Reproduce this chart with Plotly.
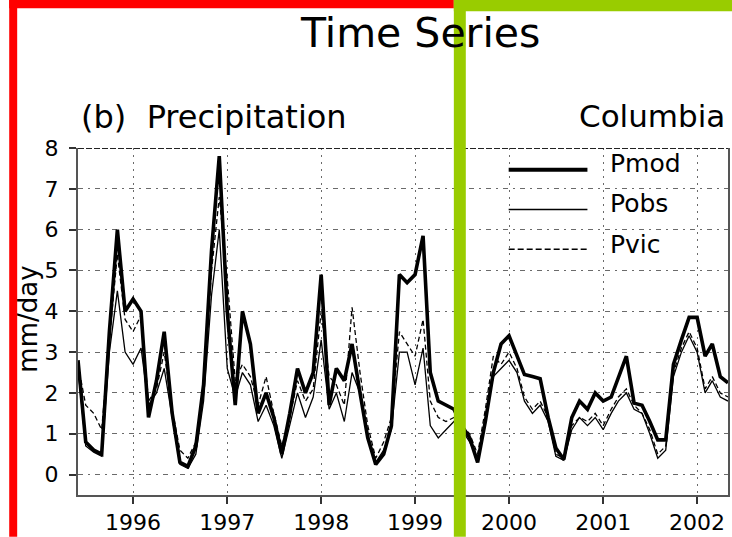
import pandas as pd
import plotly.graph_objects as go

# ---------------- data (monthly, Jun 1995 .. Apr 2002) ----------------
start_month = "1995-06-01"
n_months = 84
pmod = [2.8, 0.8, 0.6, 0.5, 3.5, 6.0, 4.0, 4.3, 4.0, 1.4, 2.3, 3.5,
        1.5, 0.3, 0.2, 0.7, 2.2, 5.5, 7.8, 4.0, 1.7, 4.0, 3.2, 1.5,
        2.0, 1.4, 0.5, 1.5, 2.6, 2.0, 2.5, 4.9, 1.7, 2.6, 2.3, 3.2,
        2.0, 0.9, 0.25, 0.5, 1.2, 4.9, 4.7, 4.9, 5.85, 2.5, 1.8, 1.7,
        1.6, 1.2, 0.9, 0.3, 1.3, 2.5, 3.2, 3.4, 2.9, 2.45, 2.4, 2.35,
        1.4, 0.65, 0.37, 1.4, 1.8, 1.6, 2.0, 1.8, 1.9, 2.4, 2.9, 1.75,
        1.7, 1.3, 0.85, 0.85, 2.7, 3.3, 3.85, 3.85, 2.9, 3.2, 2.4, 2.25]
pobs = [2.6, 0.7, 0.55, 0.45, 3.0, 4.5, 3.0, 2.7, 3.1, 1.7, 2.0, 2.6,
        1.4, 0.25, 0.15, 0.5, 1.8, 4.4, 6.0, 2.6, 1.9, 2.5, 2.2, 1.3,
        1.7, 1.2, 0.4, 1.2, 2.0, 1.4, 1.9, 3.3, 1.6, 2.0, 1.3, 2.5,
        2.0, 1.0, 0.3, 0.6, 1.1, 3.0, 3.0, 2.2, 3.1, 1.2, 0.9, 1.1,
        1.3, 1.1, 0.8, 0.4, 1.4, 2.4, 2.6, 2.8, 2.5, 1.8, 1.5, 1.7,
        1.3, 0.45, 0.35, 1.1, 1.4, 1.2, 1.4, 1.1, 1.5, 1.8, 2.0, 1.6,
        1.5, 1.0, 0.4, 0.6, 2.4, 3.0, 3.4, 3.0, 2.0, 2.3, 1.9, 1.8]
pvic = [2.7, 1.7, 1.5, 1.1, 3.3, 5.4, 3.8, 3.5, 3.9, 1.8, 2.1, 3.0,
        1.6, 0.6, 0.4, 0.8, 2.0, 5.0, 6.8, 4.8, 2.3, 2.7, 2.4, 1.7,
        2.4, 1.5, 0.7, 1.4, 2.3, 1.8, 2.1, 4.0, 2.4, 2.2, 1.7, 4.1,
        2.5, 1.2, 0.4, 0.8, 1.4, 3.5, 3.2, 2.9, 3.8, 1.8, 1.4, 1.3,
        1.4, 1.2, 1.0, 0.5, 1.6, 2.9, 2.7, 3.0, 2.6, 1.9, 1.6, 1.8,
        1.4, 0.5, 0.4, 1.2, 1.4, 1.3, 1.5, 1.2, 1.6, 1.9, 2.1, 1.7,
        1.5, 1.1, 0.5, 0.7, 2.5, 3.1, 3.5, 3.1, 2.1, 2.4, 2.0, 1.9]
series_names = ["Pmod", "Pobs", "Pvic"]
year_ticks = ["1996", "1997", "1998", "1999", "2000", "2001", "2002"]
y_ticks = [0, 1, 2, 3, 4, 5, 6, 7, 8]

dates = pd.date_range(start_month, periods=n_months, freq="MS")

# ---------------- layout geometry (pixels) ----------------
W_PX, H_PX = 732, 537
L, R, T, B = 78, 730, 148, 498


def px(x):
    return (x - L) / (R - L)


def py(y):
    return (B - y) / (B - T)


FONT = "DejaVu Sans"
fig = go.Figure()

styles = [dict(width=3.6, color="black"),
          dict(width=1.3, color="black"),
          dict(width=1.3, color="black", dash="5px,3px")]

for name, vals, st in zip(series_names, [pmod, pobs, pvic], styles):
    fig.add_trace(go.Scatter(x=dates, y=vals, mode="lines", name=name,
                             line=st, showlegend=False))

grid_col = "#6a6a6a"
fig.update_xaxes(
    range=["1995-06-01", "2002-05-01"],
    tickvals=[pd.Timestamp(f"{y}-01-01") for y in year_ticks],
    ticktext=year_ticks,
    ticks="outside", ticklen=7, tickwidth=1.5, tickcolor="#333",
    showline=True, linecolor="#555", linewidth=2,
    showgrid=True, gridcolor=grid_col, gridwidth=1, griddash="2px,5px",
    tickfont=dict(family=FONT, size=22, color="black"),
    zeroline=False,
)
fig.update_yaxes(
    range=[-0.5, 8],
    tickvals=y_ticks,
    ticks="outside", ticklen=7, tickwidth=1.5, tickcolor="#333",
    showline=True, linecolor="#555", linewidth=2, mirror=True,
    showgrid=True, gridcolor=grid_col, gridwidth=1, griddash="5px,5px,2px,5px",
    tickfont=dict(family=FONT, size=22, color="black"),
    ticklabelstandoff=6,
    zeroline=False,
)

shapes = []
# dashed top frame
shapes.append(dict(type="line", xref="paper", yref="y", x0=0, x1=1, y0=8, y1=8,
                   line=dict(color="#222", width=2, dash="6px,2px"), layer="above"))
# legend lines
leg = [(170, dict(color="black", width=4)),
       (210, dict(color="black", width=1.5)),
       (250, dict(color="black", width=1.5, dash="6px,3px"))]
for yy, ln in leg:
    shapes.append(dict(type="line", xref="paper", yref="paper",
                       x0=px(510), x1=px(589), y0=py(yy), y1=py(yy), line=ln))
# overlay frames (red and green)
RED, GREEN = "#ff0000", "#99cc00"
shapes.append(dict(type="rect", xref="paper", yref="paper", x0=px(9), x1=px(17),
                   y0=py(540), y1=py(-2), fillcolor=RED, line=dict(width=0), layer="above"))
shapes.append(dict(type="rect", xref="paper", yref="paper", x0=px(9), x1=px(455),
                   y0=py(7), y1=py(-2), fillcolor=RED, line=dict(width=0), layer="above"))
shapes.append(dict(type="rect", xref="paper", yref="paper", x0=px(455), x1=px(467),
                   y0=py(540), y1=py(-2), fillcolor=GREEN, line=dict(width=0), layer="above"))
shapes.append(dict(type="rect", xref="paper", yref="paper", x0=px(455), x1=px(740),
                   y0=py(10), y1=py(-2), fillcolor=GREEN, line=dict(width=0), layer="above"))

annotations = [
    dict(text="Time Series", x=px(421), y=py(32), xref="paper", yref="paper",
         showarrow=False, xanchor="center", yanchor="middle",
         font=dict(family=FONT, size=41, color="black")),
    dict(text="(b)  Precipitation", x=px(79), y=py(117), xref="paper", yref="paper",
         showarrow=False, xanchor="left", yanchor="middle",
         font=dict(family=FONT, size=32, color="black")),
    dict(text="Columbia", x=px(729), y=py(116), xref="paper", yref="paper",
         showarrow=False, xanchor="right", yanchor="middle",
         font=dict(family=FONT, size=31, color="black")),
    dict(text="mm/day", x=px(27), y=py(321), xref="paper", yref="paper",
         showarrow=False, xanchor="center", yanchor="middle", textangle=-90,
         font=dict(family=FONT, size=26, color="black")),
]
for yy, name in zip([164, 204, 245], series_names):
    annotations.append(dict(text=name, x=px(610), y=py(yy), xref="paper", yref="paper",
                            showarrow=False, xanchor="left", yanchor="middle",
                            font=dict(family=FONT, size=25, color="black")))

fig.update_layout(
    width=W_PX, height=H_PX,
    margin=dict(l=L, r=W_PX - R, t=T, b=H_PX - B),
    paper_bgcolor="white", plot_bgcolor="white",
    shapes=shapes, annotations=annotations,
    showlegend=False,
)

fig.write_html("out.html")
